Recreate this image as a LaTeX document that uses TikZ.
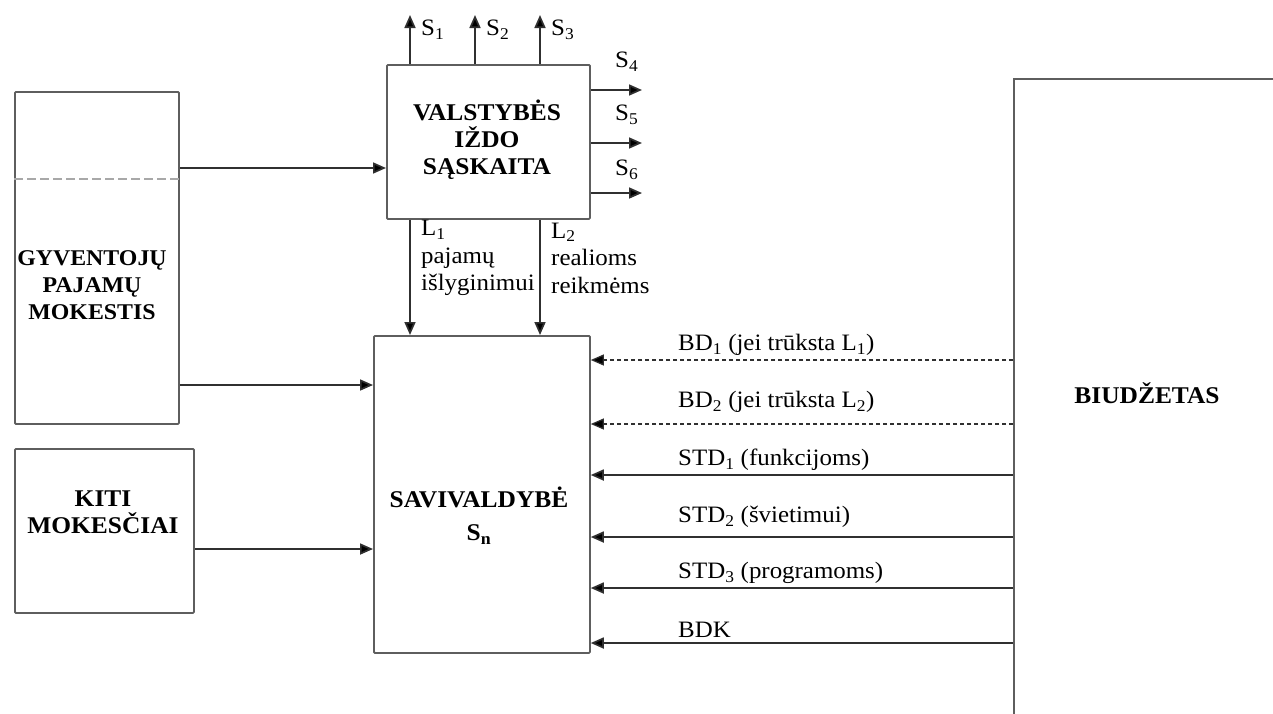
\documentclass[tikz,border=0pt]{standalone}
\usepackage{fontspec}
\setmainfont{Liberation Serif}[FakeStretch=1.06]
\usetikzlibrary{arrows.meta}
\definecolor{linegray}{HTML}{5E5E5E}
\definecolor{arrgray}{HTML}{303030}
\definecolor{dashgray}{HTML}{A8A8A8}
\tikzset{
  box/.style={draw=linegray, line width=1.8pt, rounded corners=1pt, inner sep=0pt, anchor=north west},
  arr/.style={draw=arrgray, line width=1.7pt, -{Triangle[length=13pt,width=11pt,fill=black]}},
  darr/.style={arr, line width=1.2pt, dash pattern=on 4pt off 3pt},
  lbl/.style={font=\fontsize{23.5}{27.5}\selectfont, anchor=west, inner sep=0pt, align=left},
  ttl/.style={font=\bfseries\fontsize{24}{27}\selectfont, align=center, inner sep=0pt}
}
\begin{document}
\begin{tikzpicture}[x=1pt,y=-1pt]
\useasboundingbox (0,0) rectangle (1273,713);
\fill[white] (0,0) rectangle (1273,713);
\clip (0,0) rectangle (1273,713);

% boxes
\node[box, minimum width=164pt, minimum height=332pt] (gpm) at (14,91) {};
\node[box, minimum width=179pt, minimum height=164pt] (kiti) at (14,448) {};
\node[box, minimum width=203pt, minimum height=154pt] (vis) at (386,64) {};
\node[box, minimum width=216pt, minimum height=317pt] (sav) at (373,335) {};
\node[box, rounded corners=0pt, minimum width=400pt, minimum height=700pt] (bud) at (1013,78) {};

% dashed separator in GPM
\draw[dashgray, line width=1.4pt, dash pattern=on 9pt off 4pt] (gpm.west |- 0,179) -- (gpm.east |- 0,179);

% titles
\node[ttl, font=\bfseries\fontsize{22.5}{27}\selectfont] (tgpm) at (92,285) {GYVENTOJŲ\\PAJAMŲ\\MOKESTIS};
\node[ttl] (tkiti) at (103,512) {KITI\\MOKESČIAI};
\node[ttl] (tvis) at (487,140) {VALSTYBĖS\\IŽDO\\SĄSKAITA};
\node[ttl, font=\bfseries\fontsize{24}{33}\selectfont] (tsav) at (479,516) {SAVIVALDYBĖ\\S\textsubscript{n}};
\node[ttl] (tbud) at (1147,393) {BIUDŽETAS};

% free ends
\coordinate (s1) at (410,15);
\coordinate (s2) at (475,15);
\coordinate (s3) at (540,15);
\coordinate (s4) at (642,90);
\coordinate (s5) at (642,143);
\coordinate (s6) at (642,193);

% outgoing arrows from VIS
\draw[arr] (vis.north -| s1) -- (s1);
\draw[arr] (vis.north -| s2) -- (s2);
\draw[arr] (vis.north -| s3) -- (s3);
\draw[arr] (vis.east |- s4) -- (s4);
\draw[arr] (vis.east |- s5) -- (s5);
\draw[arr] (vis.east |- s6) -- (s6);
\node[lbl] (ls1) at (421,30) {S\textsubscript{1}};
\node[lbl] (ls2) at (486,30) {S\textsubscript{2}};
\node[lbl] (ls3) at (551,30) {S\textsubscript{3}};
\node[lbl] (ls4) at (615,62) {S\textsubscript{4}};
\node[lbl] (ls5) at (615,115) {S\textsubscript{5}};
\node[lbl] (ls6) at (615,170) {S\textsubscript{6}};

% L1, L2
\draw[arr] (vis.south -| s1) -- (sav.north -| s1);
\draw[arr] (vis.south -| s3) -- (sav.north -| s3);
\node[lbl] (ll1) at (421,258) {L\textsubscript{1}\\pajamų\\išlyginimui};
\node[lbl] (ll2) at (551,258) {L\textsubscript{2}\\realioms\\reikmėms};

% inputs from left
\draw[arr] (gpm.east |- 0,168) -- (vis.west |- 0,168);
\draw[arr] (gpm.east |- 0,385) -- (sav.west |- 0,385);
\draw[arr] (kiti.east |- 0,549) -- (sav.west |- 0,549);

% inputs from budget
\draw[darr] (bud.west |- 0,360) -- (sav.east |- 0,360);
\draw[darr] (bud.west |- 0,424) -- (sav.east |- 0,424);
\draw[arr] (bud.west |- 0,475) -- (sav.east |- 0,475);
\draw[arr] (bud.west |- 0,537) -- (sav.east |- 0,537);
\draw[arr] (bud.west |- 0,588) -- (sav.east |- 0,588);
\draw[arr] (bud.west |- 0,643) -- (sav.east |- 0,643);
\node[lbl] (lb1) at (678,345) {BD\textsubscript{1} (jei trūksta L\textsubscript{1})};
\node[lbl] (lb2) at (678,402) {BD\textsubscript{2} (jei trūksta L\textsubscript{2})};
\node[lbl] (lb3) at (678,460) {STD\textsubscript{1} (funkcijoms)};
\node[lbl] (lb4) at (678,517) {STD\textsubscript{2} (švietimui)};
\node[lbl] (lb5) at (678,573) {STD\textsubscript{3} (programoms)};
\node[lbl] (lb6) at (678,630) {BDK};
\end{tikzpicture}
\end{document}
